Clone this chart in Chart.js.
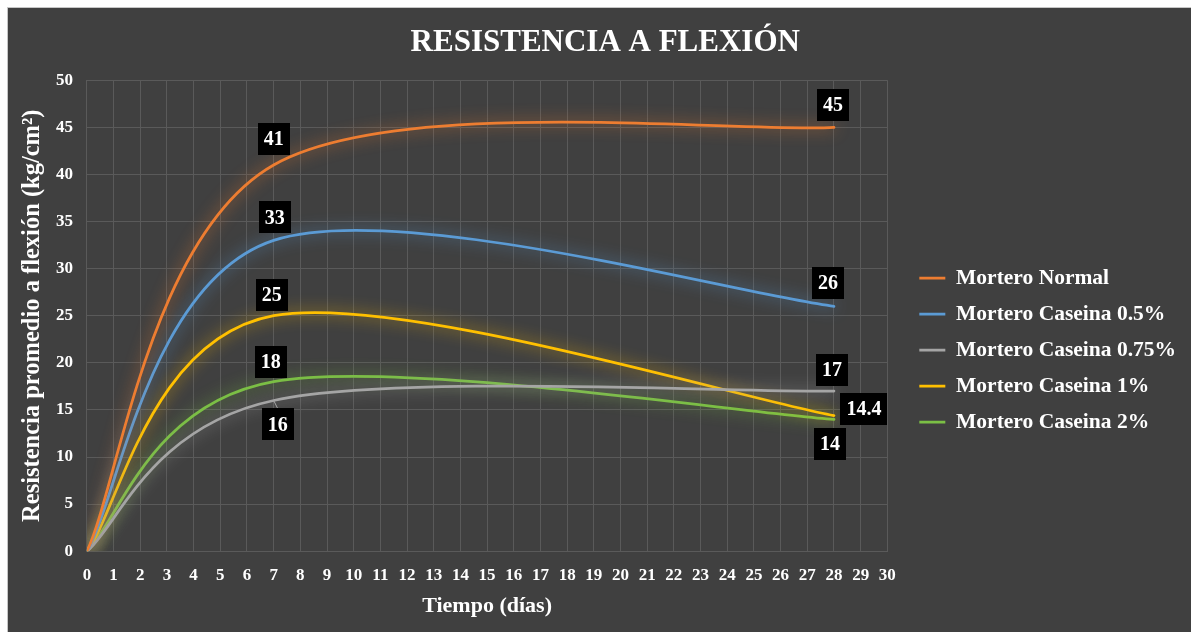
<!DOCTYPE html>
<html>
<head>
<meta charset="utf-8">
<title>Resistencia a flexión</title>
<script src="https://cdn.jsdelivr.net/npm/chart.js@4.4.1/dist/chart.umd.min.js"></script>
<style>
  html, body { margin: 0; padding: 0; background: #ffffff; }
  #frame {
    position: absolute; left: 7px; top: 7px;
    width: 1183px; height: 624px;
    border-top: 1px solid #c6c6c6; border-left: 1px solid #c6c6c6;
    background: #404040;
  }
  canvas { display: block; }
</style>
</head>
<body>
<div id="frame"><canvas id="chart" width="1183" height="624"></canvas></div>
<script>
const days = [0, 7, 28];
const seriesNames = ['Mortero Normal', 'Mortero Caseina 0.5%', 'Mortero Caseina 0.75%', 'Mortero Caseina 1%', 'Mortero Caseina 2%'];
const normal = [0, 41, 45];
const caseina05 = [0, 33, 26];
const caseina075 = [0, 16, 17];
const caseina1 = [0, 25, 14.4];
const caseina2 = [0, 18, 14];
const seriesValues = [normal, caseina05, caseina075, caseina1, caseina2];
const seriesColors = ['#ed7d31', '#5b9bd5', '#a5a5a5', '#ffc000', '#7bbf45'];

// value boxes: [dx, dy, leader] from the point in px, null = no box
const boxOffsets = [
  [null, [0, -26], [-1, -22]],
  [null, [1, -23], [-6, -23]],
  [null, [4, 24, true], [-2, -21]],
  [null, [-2, -21], [30, -7]],
  [null, [-3, -20], [-4, 25]]
];

const serif = '"Liberation Serif", "Times New Roman", serif';

function rgba(hex, a) {
  const n = parseInt(hex.slice(1), 16);
  return `rgba(${n >> 16},${(n >> 8) & 255},${n & 255},${a})`;
}

// spreadsheet-style smoothing: tangent parallel to the neighbours' chord, handles 1/6 of it
const smoothing = {
  id: 'smoothing',
  beforeDatasetDraw(chart, args) {
    const meta = args.meta;
    meta.dataset.updateControlPoints(chart.chartArea, 'x');
    const pts = meta.data;
    const n = pts.length;
    pts.forEach((p, i) => {
      const prev = pts[Math.max(i - 1, 0)];
      const next = pts[Math.min(i + 1, n - 1)];
      const tx = (next.x - prev.x) / 6;
      const ty = (next.y - prev.y) / 6;
      p.cp1x = p.x - tx;
      p.cp1y = p.y - ty;
      p.cp2x = p.x + tx;
      p.cp2y = p.y + ty;
    });
  }
};

// soft glow around each line
const glow = {
  id: 'glow',
  beforeDatasetDraw(chart, args) {
    const ctx = chart.ctx;
    ctx.save();
    ctx.shadowColor = rgba(seriesColors[args.index], 0.9);
    ctx.shadowBlur = 15;
  },
  afterDatasetDraw(chart) {
    chart.ctx.restore();
  }
};

// black boxes with the value at 7 and 28 days
const valueBoxes = {
  id: 'valueBoxes',
  afterDatasetsDraw(chart) {
    const ctx = chart.ctx;
    ctx.save();
    ctx.font = 'bold 20px ' + serif;
    ctx.textAlign = 'center';
    ctx.textBaseline = 'middle';
    chart.data.datasets.forEach((ds, i) => {
      chart.getDatasetMeta(i).data.forEach((pt, j) => {
        const off = boxOffsets[i][j];
        if (!off) return;
        const text = String(ds.data[j].y);
        const w = ctx.measureText(text).width + 12;
        const h = 32;
        const cx = pt.x + off[0];
        const cy = pt.y + off[1];
        if (off[2]) {
          ctx.strokeStyle = '#a6a6a6';
          ctx.lineWidth = 1;
          ctx.beginPath();
          ctx.moveTo(pt.x, pt.y);
          ctx.lineTo(cx, cy - h / 2);
          ctx.stroke();
        }
        ctx.fillStyle = '#000000';
        ctx.fillRect(Math.round(cx - w / 2), Math.round(cy - h / 2), Math.round(w), h);
        ctx.fillStyle = '#ffffff';
        ctx.fillText(text, cx, cy + 1);
      });
    });
    ctx.restore();
  }
};

// nudge the legend and the title into place
const blockShift = {
  id: 'blockShift',
  afterLayout(chart) {
    const lg = chart.legend;
    lg.left += 17.5;
    lg.right += 40;
    lg.top += 36;
    lg.bottom += 36;
    chart.titleBlock.left += 12;
    chart.titleBlock.right += 12;
  }
};

const datasets = seriesNames.map((name, i) => ({
  label: name,
  data: days.map((d, j) => ({ x: d, y: seriesValues[i][j] })),
  borderColor: seriesColors[i],
  backgroundColor: seriesColors[i],
  borderWidth: 2.75,
  borderCapStyle: 'round',
  pointRadius: 0,
  pointHoverRadius: 0,
  tension: 0.4,
  fill: false
}));

const gridColor = '#5a5a5a';

new Chart(document.getElementById('chart'), {
  type: 'line',
  data: { datasets },
  plugins: [smoothing, glow, valueBoxes, blockShift],
  options: {
    responsive: false,
    animation: false,
    layout: { padding: { left: 10, right: 22.5, top: 0, bottom: 12 } },
    plugins: {
      title: {
        display: true,
        text: 'RESISTENCIA A FLEXIÓN',
        color: '#ffffff',
        font: { family: serif, size: 31, weight: 'bold' },
        padding: { top: 16, bottom: 19 }
      },
      legend: {
        position: 'right',
        labels: {
          usePointStyle: true,
          pointStyle: 'line',
          pointStyleWidth: 26,
          color: '#ffffff',
          font: { family: serif, size: 21.5, weight: 'bold' },
          padding: 14.5
        }
      },
      tooltip: { enabled: false }
    },
    scales: {
      x: {
        type: 'linear',
        min: 0,
        max: 30,
        ticks: {
          stepSize: 1,
          autoSkip: false,
          maxRotation: 0,
          padding: 14,
          color: '#ffffff',
          font: { family: serif, size: 17, weight: 'bold' }
        },
        grid: { color: gridColor, drawTicks: false },
        border: { color: gridColor },
        title: {
          display: true,
          text: 'Tiempo (días)',
          color: '#ffffff',
          font: { family: serif, size: 22, weight: 'bold' },
          padding: { top: -6, bottom: 0 }
        }
      },
      y: {
        min: 0,
        max: 50,
        ticks: {
          stepSize: 5,
          padding: 14,
          color: '#ffffff',
          font: { family: serif, size: 17, weight: 'bold' }
        },
        grid: { color: gridColor, drawTicks: false },
        border: { color: gridColor },
        title: {
          display: true,
          text: 'Resistencia promedio a flexión (kg/cm²)',
          color: '#ffffff',
          font: { family: serif, size: 24.5, weight: 'bold' },
          padding: { top: 0, bottom: -5.5 }
        }
      }
    }
  }
});
</script>
</body>
</html>
